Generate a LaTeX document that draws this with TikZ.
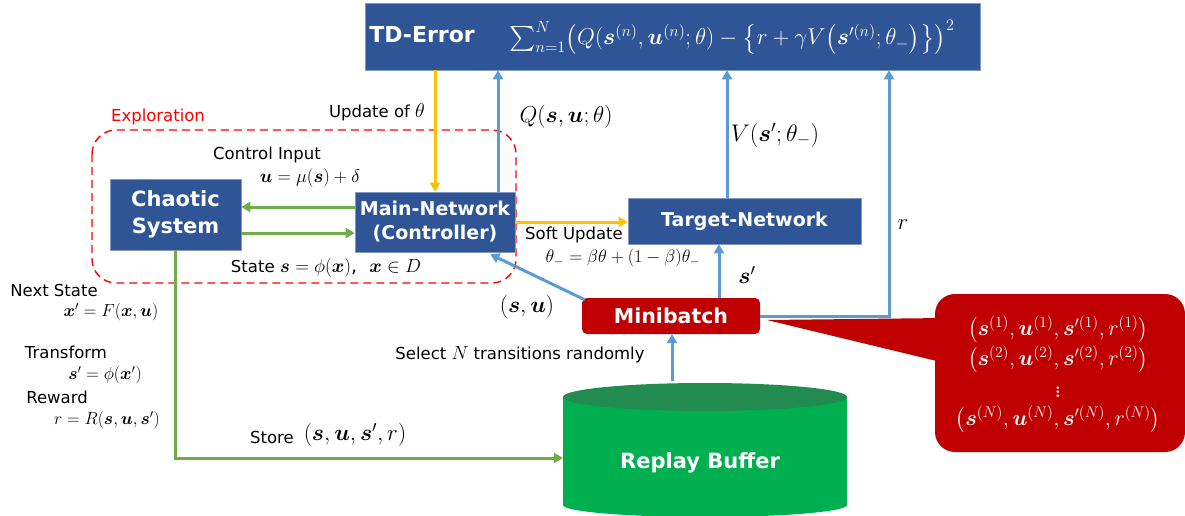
\RequirePackage{fix-cm}
\documentclass[tikz,border=0pt]{standalone}
\usepackage{amsmath,bm}
\usepackage{fontspec}
\newfontfamily\djs{DejaVu Sans}
\usetikzlibrary{arrows.meta}
\definecolor{nblue}{HTML}{2F5597}
\definecolor{lblue}{HTML}{5B9BD5}
\definecolor{gline}{HTML}{70AD47}
\definecolor{oline}{HTML}{FFC000}
\definecolor{dred}{HTML}{C00000}
\definecolor{bgreen}{HTML}{00B050}
\definecolor{tgreen}{HTML}{218B50}
\newcommand{\fs}[1]{\fontsize{#1}{#1}\selectfont}
\newcommand{\fsb}[2]{\fontsize{#1}{#2}\selectfont}
\begin{document}
\begin{tikzpicture}[x=1pt,y=-1pt,
  bluebox/.style={fill=nblue,draw=nblue!60!white,line width=0.6pt,text=white,font=\djs\bfseries,align=center,inner sep=0pt},
  lbl/.style={font=\djs\fs{16.5},inner sep=0pt,anchor=center},
  mth/.style={inner sep=0pt,anchor=center,font=\fs{17.5}},
  barr/.style={draw=lblue,line width=3pt,-{Triangle[length=9pt,width=10pt]}},
  garr/.style={draw=gline,line width=3pt,-{Triangle[length=9pt,width=10pt]}},
  oarr/.style={draw=oline,line width=3pt,-{Triangle[length=9pt,width=10pt]}}]
\useasboundingbox (0,0) rectangle (1185,516);
\fill[white] (0,0) rectangle (1185,516);

% exploration region
\draw[red,line width=1.4pt,dash pattern=on 8pt off 5pt,rounded corners=24pt] (92,130) rectangle (516,283);
\node[lbl,text=red] (expl) at (158,117) {Exploration};

% boxes
\node[bluebox,minimum width=615pt,minimum height=67pt] (td) at (672.5,36.5) {};
\node[font=\djs\bfseries\fs{22},text=white,inner sep=0pt] (tdl) at (422,35) {TD-Error};
\node[text=white,inner sep=0pt,font=\fs{23}] (tdf) at (732,37)
  {$\textstyle\sum_{n=1}^{N}\bigl(Q(\bm{s}^{(n)},\bm{u}^{(n)};\theta)-\bigl\{r+\gamma V\bigl(\bm{s}'^{(n)};\theta_-\bigr)\bigr\}\bigr)^2$};
\node[bluebox,minimum width=131pt,minimum height=71pt,font=\djs\bfseries\fsb{21}{27}] (chaos) at (175.5,214.5) {Chaotic\\System};
\node[bluebox,minimum width=160pt,minimum height=60pt,font=\djs\bfseries\fsb{19}{24}] (main) at (435,222) {Main-Network\\(Controller)};
\node[bluebox,minimum width=233pt,minimum height=46pt,font=\djs\bfseries\fs{19}] (target) at (744.5,221) {Target-Network};
\node[fill=dred,rounded corners=5pt,minimum width=178pt,minimum height=36pt,text=white,font=\djs\bfseries\fs{20.5},inner sep=0pt] (mini) at (671,316) {Minibatch};

% replay buffer cylinder
\fill[bgreen] (563,397) -- (563,505) arc[start angle=180,end angle=360,x radius=142pt,y radius=12pt] -- (847,397) -- cycle;
\fill[tgreen] (705,397) ellipse[x radius=142pt,y radius=14pt];
\node[text=white,font=\djs\bfseries\fs{21},inner sep=0pt] (rb) at (700,463) {Replay Buffer};
\coordinate (rbtop) at (672,381);
\coordinate (rbleft) at (563,458);

% callout
\fill[dred] (767,320) -- (945,318) -- (945,363) -- cycle;
\fill[dred,rounded corners=20pt] (935,294) rectangle (1185,452);
\node[text=white,inner sep=0pt,font=\fs{22}] (c1) at (1058,330) {$\bigl(\bm{s}^{(1)},\bm{u}^{(1)},\bm{s}'^{(1)},r^{(1)}\bigr)$};
\node[text=white,inner sep=0pt,font=\fs{22}] (c2) at (1058,360) {$\bigl(\bm{s}^{(2)},\bm{u}^{(2)},\bm{s}'^{(2)},r^{(2)}\bigr)$};
\node[text=white,inner sep=0pt,font=\fs{18}] (c3) at (1058,389) {$\boldsymbol{\vdots}$};
\node[text=white,inner sep=0pt,font=\fs{22}] (c4) at (1058,420) {$\bigl(\bm{s}^{(N)},\bm{u}^{(N)},\bm{s}'^{(N)},r^{(N)}\bigr)$};

% arrows
\draw[oarr] (main.north |- td.south) -- (main.north);
\draw[barr] ([xshift=63pt]main.north) -- ([xshift=63pt]main.north |- td.south);
\draw[barr] ([xshift=-17.5pt]target.north) -- ([xshift=-17.5pt]target.north |- td.south);
\draw[barr] ([xshift=48pt]mini.north) -- ([xshift=48pt]mini.north |- target.south);
\draw[barr] (mini.east) -| ([xshift=216.5pt]td.south);
\draw[barr] ([xshift=3pt,yshift=-2pt]mini.north west) -- ([xshift=-25pt,yshift=-2pt]main.south east);
\draw[barr] (rbtop) -- (rbtop |- mini.south);
\draw[oarr] (main.east) -- (main.east -| target.west);
\draw[garr] ([yshift=15pt]main.west) -- ([yshift=15pt]main.west -| chaos.east);
\draw[garr] ([yshift=-11pt]main.west -| chaos.east) -- ([yshift=-11pt]main.west);
\draw[garr] (chaos.south) |- (rbleft);

% labels
\node[lbl] (upd) at (377,112) {Update of {\fs{20}$\theta$}};
\node[mth,font=\fs{23}] (ql) at (566,117) {$Q(\bm{s},\bm{u};\theta)$};
\node[mth,font=\fs{24}] (vl) at (775,135) {$V(\bm{s}';\theta_-)$};
\node[mth,font=\fs{23}] (rl) at (903,225) {$r$};
\node[mth,font=\fs{23}] (spl) at (747,275) {$\bm{s}'$};
\node[mth,font=\fs{23}] (sul) at (527,307) {$(\bm{s},\bm{u})$};
\node[lbl] (sel) at (520,355) {Select {\fs{19}$N$} transitions randomly};
\node[lbl] (soft) at (574,235) {Soft Update};
\node[mth,font=\fs{18}] (softf) at (623,258) {$\theta_-=\beta\theta+(1-\beta)\theta_-$};
\node[lbl] (ci) at (267,155) {Control Input};
\node[mth,font=\fs{18.5}] (cif) at (310,178) {$\bm{u}=\mu(\bm{s})+\delta$};
\node[lbl] (st) at (326,268) {State {\fs{19}$\bm{s}=\phi(\bm{x})$,\ \ $\bm{x}\in D$}};
\node[lbl] (ns) at (54,290) {Next State};
\node[mth] (nsf) at (111,312) {$\bm{x}'=F(\bm{x},\bm{u})$};
\node[lbl] (tr) at (66,352) {Transform};
\node[mth] (trf) at (105,375) {$\bm{s}'=\phi(\bm{x}')$};
\node[lbl] (rw) at (57,397) {Reward};
\node[mth] (rwf) at (107,420) {$r=R(\bm{s},\bm{u},\bm{s}')$};
\node[lbl] (sto) at (272,437) {Store};
\node[mth,font=\fs{23}] (stof) at (355,435) {$(\bm{s},\bm{u},\bm{s}',r)$};
\end{tikzpicture}
\end{document}
